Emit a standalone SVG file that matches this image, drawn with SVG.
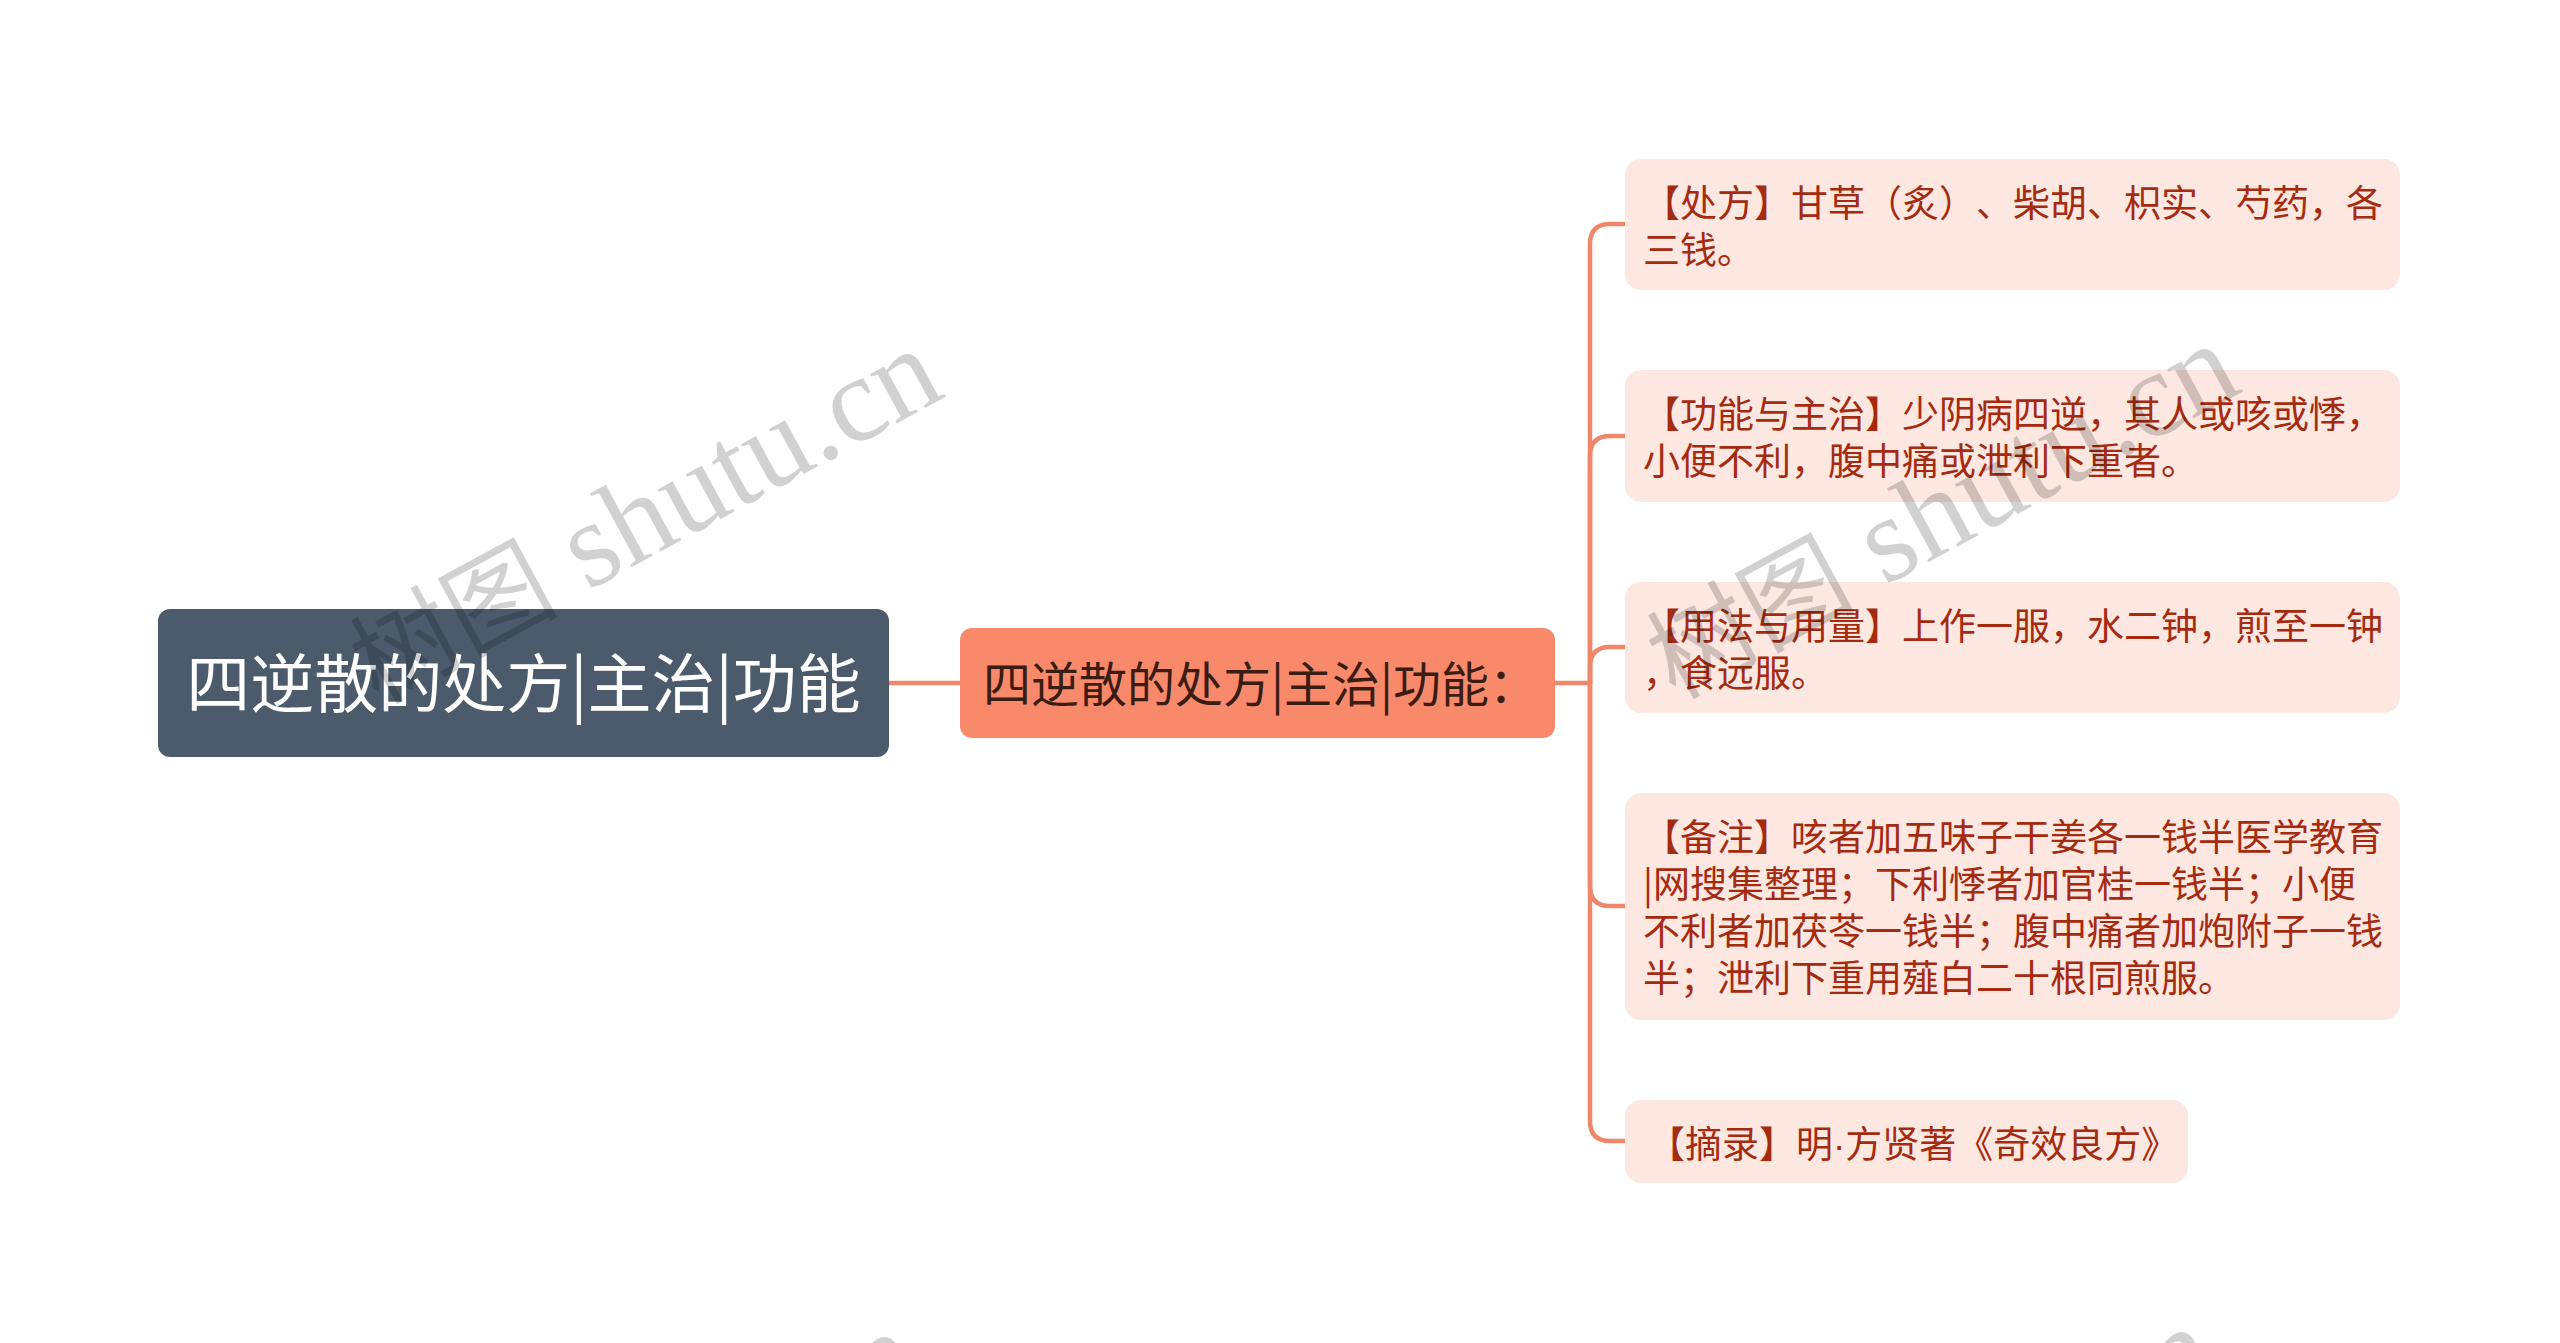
<svg xmlns="http://www.w3.org/2000/svg" width="2560" height="1343" viewBox="0 0 2560 1343">
<style>
.cjk{font-family:"Noto Sans CJK SC","Noto Sans",sans-serif;text-spacing-trim:space-all}
.root-t{font-size:64px;fill:#ffffff}
.mid-t{font-size:48px;fill:#3a1c12}
.leaf{fill:#fde7e1}
.leaf-t{font-size:37px;fill:#a52b10}
.dot{font-family:"Liberation Sans",sans-serif}
.conn{fill:none;stroke:#f0876a;stroke-width:4.5;stroke-linecap:round}
.wm{font-family:"Liberation Serif","Noto Sans CJK SC",serif;font-size:122px;fill:#000;fill-opacity:0.18}
.wmc{font-family:"Noto Sans CJK SC",sans-serif;font-size:104px}
</style>
<rect width="2560" height="1343" fill="#ffffff"/>
<g id="connectors">
<path class="conn" d="M889 683 H960"/>
<path class="conn" d="M1555 683 H1590"/>
<path class="conn" d="M1590 683 V244 Q1590 224 1610 224 H1626"/>
<path class="conn" d="M1590 683 V456 Q1590 436 1610 436 H1626"/>
<path class="conn" d="M1590 683 V667 Q1590 647 1610 647 H1626"/>
<path class="conn" d="M1590 683 V886 Q1590 906 1610 906 H1626"/>
<path class="conn" d="M1590 683 V1121 Q1590 1141 1610 1141 H1626"/>
</g>
<g id="root">
<rect x="158" y="609" width="731" height="148" rx="12" fill="#4b5b6b"/>
<text class="cjk root-t" x="523.5" y="707" text-anchor="middle">四逆散的处方|主治|功能</text>
</g>
<g id="mid">
<rect x="960" y="628" width="595" height="110" rx="12" fill="#f9896b"/>
<text class="cjk mid-t" x="983" y="702">四逆散的处方|主治|功能：</text>
</g>
<g id="leaf1">
<rect class="leaf" x="1625" y="159" width="775" height="131" rx="16"/>
<text class="cjk leaf-t" x="1643" y="217">【处方】甘草（炙）、柴胡、枳实、芍药，各</text>
<text class="cjk leaf-t" x="1643" y="264">三钱。</text>
</g>
<g id="leaf2">
<rect class="leaf" x="1625" y="370" width="775" height="132" rx="16"/>
<text class="cjk leaf-t" x="1643" y="428">【功能与主治】少阴病四逆，其人或咳或悸，</text>
<text class="cjk leaf-t" x="1643" y="475">小便不利，腹中痛或泄利下重者。</text>
</g>
<g id="leaf3">
<rect class="leaf" x="1625" y="582" width="775" height="131" rx="16"/>
<text class="cjk leaf-t" x="1643" y="640">【用法与用量】上作一服，水二钟，煎至一钟</text>
<text class="cjk leaf-t" x="1643" y="687">，食远服。</text>
</g>
<g id="leaf4">
<rect class="leaf" x="1625" y="793" width="775" height="227" rx="16"/>
<text class="cjk leaf-t" x="1643" y="851">【备注】咳者加五味子干姜各一钱半医学教育</text>
<text class="cjk leaf-t" x="1643" y="898">|网搜集整理；下利悸者加官桂一钱半；小便</text>
<text class="cjk leaf-t" x="1643" y="945">不利者加茯苓一钱半；腹中痛者加炮附子一钱</text>
<text class="cjk leaf-t" x="1643" y="992">半；泄利下重用薤白二十根同煎服。</text>
</g>
<g id="leaf5">
<rect class="leaf" x="1625" y="1100" width="563" height="83" rx="16"/>
<text class="cjk leaf-t" x="1648" y="1158">【摘录】明<tspan class="dot">·</tspan>方贤著《奇效良方》</text>
</g>
<g id="watermarks">
<text class="wm" transform="translate(378,705) rotate(-28.5)"><tspan class="wmc">树图</tspan> shutu.cn</text>
<text class="wm" transform="translate(1675,700) rotate(-28.5)"><tspan class="wmc">树图</tspan> shutu.cn</text>
<text class="wm" transform="translate(355,1688) rotate(-28.5)"><tspan class="wmc">树图</tspan> shutu.cn</text>
<text class="wm" transform="translate(1652,1683) rotate(-28.5)"><tspan class="wmc">树图</tspan> shutu.cn</text>
</g>
</svg>
